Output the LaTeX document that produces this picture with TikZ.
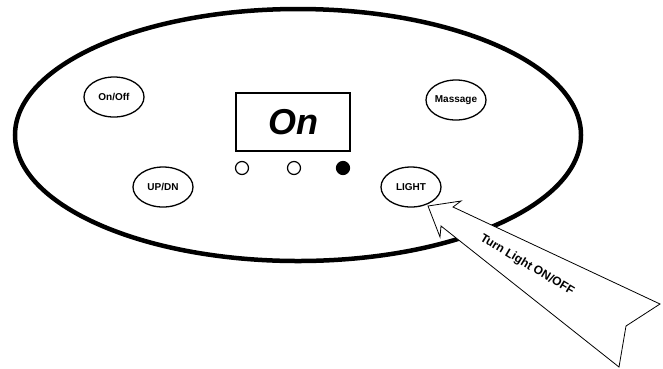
\documentclass[tikz,border=0pt]{standalone}
\usepackage{fontspec}
\setmainfont{Liberation Sans}
\usepackage{tikz}
\usetikzlibrary{shapes.geometric,positioning}

\begin{document}
\begin{tikzpicture}[x=1pt,y=-1pt,
		button/.style={draw,ellipse,line width=1.3pt,minimum width=60pt,minimum height=40pt,inner sep=0pt,font=\bfseries\fontsize{10}{12}\selectfont},
		led/.style={draw,circle,line width=1.2pt,minimum size=13pt,inner sep=0pt}]
		\useasboundingbox (0,0) rectangle (663,368);
		\node[draw,ellipse,line width=4.5pt,minimum width=566pt,minimum height=252pt] (Panel) at (298,135) {};
		
		\node[button] (OnOff) at (114,97) {On/Off};
		\node[button] (UpDn) at (163,187) {UP/DN};
		\node[button] (Massage) at (456,100) {Massage};
		\node[button] (Light) at (411,187) {LIGHT};
		
		\node[draw,line width=2pt,minimum width=114pt,minimum height=58pt,inner sep=0pt,font=\bfseries\itshape\fontsize{36}{40}\selectfont] (Display) at (293,122) {On};
		\node[led] (LedOne) at (242,168) {};
		\node[led] (LedTwo) at (294,168) {};
		\node[led,fill=black] (LedThree) at (343,168) {};
		
		% callout pointing at the light button
		\coordinate (Tip) at (428,206);
		\draw[line width=0.8pt,fill=white,line join=miter]
		(Tip) -- (461,201) -- (453,207) -- (660,304) -- (626,326) -- (619,367) -- (441,226) -- (440,237) -- cycle;
		\node[font=\bfseries\fontsize{12}{14}\selectfont,rotate=-31,inner sep=0pt] (Hint) at (527,265) {Turn Light ON/OFF};
\end{tikzpicture}
\end{document}
